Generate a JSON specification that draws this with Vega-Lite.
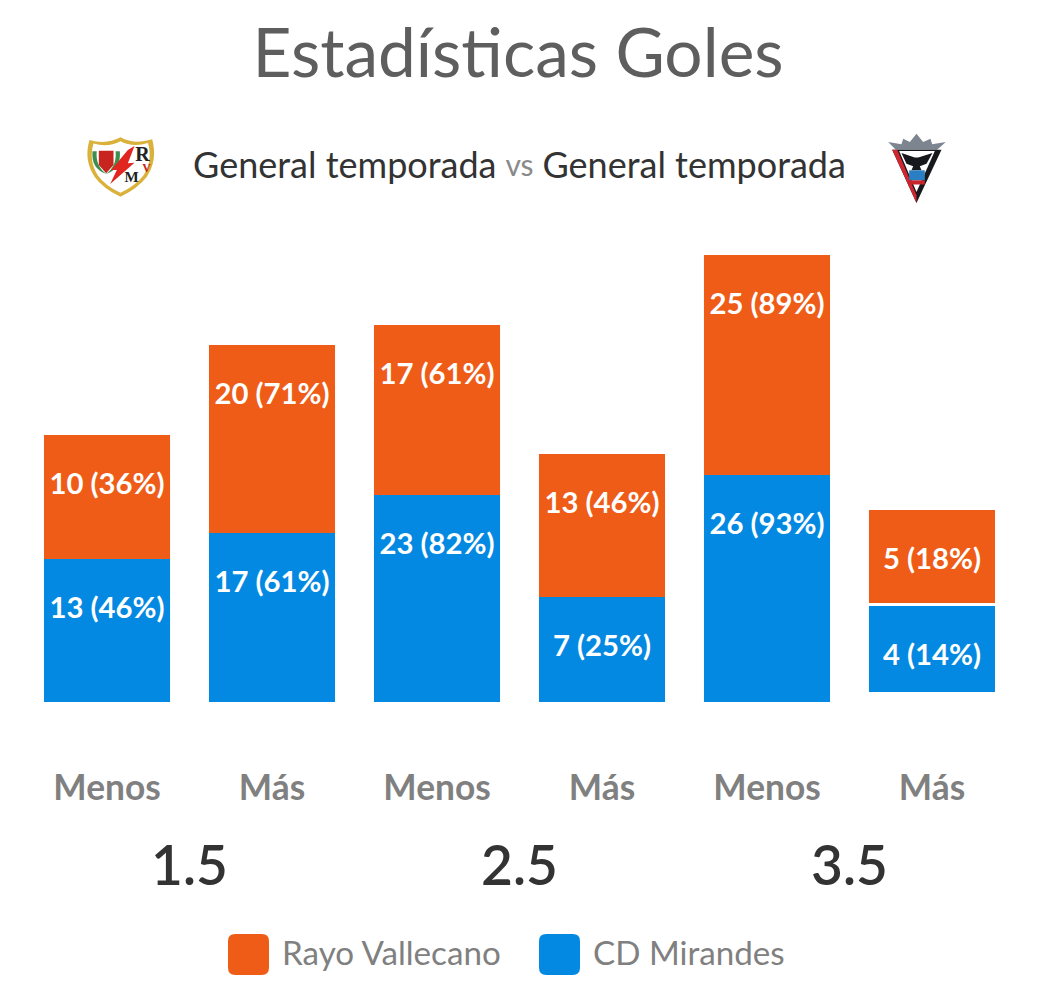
{
"$schema":"https://vega.github.io/schema/vega-lite/v6.json",
"width":1040,"height":1000,"padding":0,"autosize":"none","background":"white",
"config":{"view":{"stroke":null},"font":"Lato"},
"title":{"text":"Estadísticas Goles","font":"Lato","fontSize":67.6,"fontWeight":"normal","color":"#5e5e5e","anchor":"middle","offset":-92,"dx":-2},
"data":{"values":[
{"grupo":"1.5","linea":"Menos","equipo":"CD Mirandes","inicio":0,"fin":143,"etiqueta":"13 (46%)"},
{"grupo":"1.5","linea":"Menos","equipo":"Rayo Vallecano","inicio":143,"fin":267,"etiqueta":"10 (36%)"},
{"grupo":"1.5","linea":"Más","equipo":"CD Mirandes","inicio":0,"fin":169,"etiqueta":"17 (61%)"},
{"grupo":"1.5","linea":"Más","equipo":"Rayo Vallecano","inicio":169,"fin":357,"etiqueta":"20 (71%)"},
{"grupo":"2.5","linea":"Menos","equipo":"CD Mirandes","inicio":0,"fin":207,"etiqueta":"23 (82%)"},
{"grupo":"2.5","linea":"Menos","equipo":"Rayo Vallecano","inicio":207,"fin":377,"etiqueta":"17 (61%)"},
{"grupo":"2.5","linea":"Más","equipo":"CD Mirandes","inicio":0,"fin":105,"etiqueta":"7 (25%)"},
{"grupo":"2.5","linea":"Más","equipo":"Rayo Vallecano","inicio":105,"fin":248,"etiqueta":"13 (46%)"},
{"grupo":"3.5","linea":"Menos","equipo":"CD Mirandes","inicio":0,"fin":227,"etiqueta":"26 (93%)"},
{"grupo":"3.5","linea":"Menos","equipo":"Rayo Vallecano","inicio":227,"fin":447,"etiqueta":"25 (89%)"},
{"grupo":"3.5","linea":"Más","equipo":"CD Mirandes","inicio":10,"fin":96,"etiqueta":"4 (14%)"},
{"grupo":"3.5","linea":"Más","equipo":"Rayo Vallecano","inicio":99,"fin":192,"etiqueta":"5 (18%)"}
]},
"encoding":{
"x":{"field":"grupo","type":"nominal","sort":["1.5","2.5","3.5"],
 "scale":{"type":"band","domain":["1.5","2.5","3.5"],"paddingInner":0,"paddingOuter":0.0758,"align":0.49},
 "axis":{"title":null,"orient":"bottom","offset":-170,"labelAngle":0,"domain":false,"ticks":false,"grid":false,"labelFont":"Lato","labelFontSize":55,"labelFontWeight":600,"labelColor":"#333333","labelPadding":11}}
},
"layer":[
{"mark":{"type":"bar"},
 "encoding":{
 "xOffset":{"field":"linea","type":"nominal","sort":["Menos","Más"],"scale":{"domain":["Menos","Más"],"paddingInner":0.236,"paddingOuter":0.118}},
 "y":{"field":"inicio","type":"quantitative","scale":{"domain":[-298,702],"nice":false,"zero":false},"axis":null},
 "y2":{"field":"fin"},
 "color":{"field":"equipo","type":"nominal","scale":{"domain":["Rayo Vallecano","CD Mirandes"],"range":["#EE5C18","#0489E2"]},
  "legend":{"title":null,"orient":"none","legendX":228,"legendY":934,"direction":"horizontal","symbolType":"M-0.65,-1H0.65Q1,-1 1,-0.65V0.65Q1,1 0.65,1H-0.65Q-1,1 -1,0.65V-0.65Q-1,-1 -0.65,-1Z","symbolSize":1681,"symbolStrokeWidth":0,"symbolOpacity":1,"labelFont":"Lato","labelFontSize":33.2,"labelColor":"#808080","labelOffset":13,"columnPadding":37,"labelLimit":400,"padding":0}}
 }},
{"mark":{"type":"text","font":"Lato","fontSize":29.3,"fontWeight":"bold","color":"white","baseline":"middle","dy":50},
 "encoding":{
 "xOffset":{"field":"linea","type":"nominal","sort":["Menos","Más"]},
 "y":{"field":"fin","type":"quantitative"},
 "text":{"field":"etiqueta"}
 }},
{"transform":[{"filter":"datum.equipo === 'CD Mirandes'"}],
 "mark":{"type":"text","font":"Lato","fontSize":35.3,"fontWeight":"bold","color":"#808080","baseline":"middle"},
 "encoding":{
 "xOffset":{"field":"linea","type":"nominal","sort":["Menos","Más"]},
 "y":{"datum":-87},
 "text":{"field":"linea"}
 }},
{"data":{"values":[{"texto":"General temporada"}]},
 "mark":{"type":"text","font":"Lato","fontSize":36,"color":"#333333","align":"right","baseline":"middle","dx":-23},
 "encoding":{"x":{"datum":"2.5"},"y":{"datum":535},"text":{"field":"texto"}}},
{"data":{"values":[{"texto":"vs"}]},
 "mark":{"type":"text","font":"Lato","fontSize":30,"color":"#8a8a8a","align":"center","baseline":"middle"},
 "encoding":{"x":{"datum":"2.5"},"y":{"datum":535},"text":{"field":"texto"}}},
{"data":{"values":[{"texto":"General temporada"}]},
 "mark":{"type":"text","font":"Lato","fontSize":36,"color":"#333333","align":"left","baseline":"middle","dx":23},
 "encoding":{"x":{"datum":"2.5"},"y":{"datum":535},"text":{"field":"texto"}}},
{"data":{"values":[{"escudo":"Rayo Vallecano"}]},
 "layer":[
 {"mark":{"type":"point","filled":true,"opacity":1,"color":"#d9b13b","size":4900,"shape":"M-0.886,-0.771Q-0.41,-0.63 0,-0.848Q0.4,-0.63 0.905,-0.79Q1.067,-0.2 0.752,0.276Q0.495,0.61 0,0.848Q-0.505,0.61 -0.743,0.276Q-1.057,-0.2 -0.886,-0.771Z"},
  "encoding":{"x":{"datum":"1.5"},"xOffset":{"value":96},"y":{"datum":535}}},
 {"mark":{"type":"point","filled":true,"opacity":1,"color":"#ffffff","size":3700,"shape":"M-0.886,-0.771Q-0.41,-0.63 0,-0.848Q0.4,-0.63 0.905,-0.79Q1.067,-0.2 0.752,0.276Q0.495,0.61 0,0.848Q-0.505,0.61 -0.743,0.276Q-1.057,-0.2 -0.886,-0.771Z"},
  "encoding":{"x":{"datum":"1.5"},"xOffset":{"value":96},"y":{"datum":535}}},
 {"mark":{"type":"point","filled":true,"opacity":1,"color":"#3e8f4e","size":4900,"shape":"M-0.8,-0.45Q-0.85,0.05 -0.4,0.2Q-0.72,-0.02 -0.68,-0.45ZM-0.02,-0.45Q0.03,0.05 -0.42,0.2Q-0.1,-0.02 -0.14,-0.45Z"},
  "encoding":{"x":{"datum":"1.5"},"xOffset":{"value":96},"y":{"datum":535}}},
 {"mark":{"type":"point","filled":true,"opacity":1,"color":"#c8251f","size":4900,"shape":"M-0.62,-0.467L-0.2,-0.467L-0.2,-0.057L-0.41,0.18L-0.62,-0.057Z"},
  "encoding":{"x":{"datum":"1.5"},"xOffset":{"value":96},"y":{"datum":535}}},
 {"mark":{"type":"point","filled":true,"opacity":1,"color":"#e0261f","size":4900,"shape":"M0.4,-0.6L0.21,-0.105L0.4,-0.124L-0.295,0.486L-0.105,0.086L-0.267,0.086L0.21,-0.486Z"},
  "encoding":{"x":{"datum":"1.5"},"xOffset":{"value":96},"y":{"datum":535}}}
 ]},
{"data":{"values":[{"letra":"R"}]},
 "mark":{"type":"text","font":"Liberation Serif","fontWeight":"bold","fontSize":20,"color":"#222222","baseline":"middle","dx":-47},
 "encoding":{"x":{"datum":"1.5"},"y":{"datum":547},"text":{"field":"letra"}}},
{"data":{"values":[{"letra":"M"}]},
 "mark":{"type":"text","font":"Liberation Serif","fontWeight":"bold","fontSize":15,"color":"#222222","baseline":"middle","dx":-58},
 "encoding":{"x":{"datum":"1.5"},"y":{"datum":525},"text":{"field":"letra"}}},
{"data":{"values":[{"letra":"V"}]},
 "mark":{"type":"text","font":"Liberation Serif","fontWeight":"bold","fontSize":12,"color":"#c8251f","baseline":"middle","dx":-43},
 "encoding":{"x":{"datum":"1.5"},"y":{"datum":534},"text":{"field":"letra"}}},
{"data":{"values":[{"escudo":"CD Mirandes"}]},
 "layer":[
 {"mark":{"type":"point","filled":true,"opacity":1,"color":"#7d8590","size":4900,"shape":"M-0.81,-0.714L-0.43,-0.648L-0.38,-0.81L-0.19,-0.714L0,-0.952L0.19,-0.714L0.4,-0.81L0.448,-0.648L0.838,-0.714L0.59,-0.495L-0.59,-0.495Z"},
  "encoding":{"x":{"datum":"3.5"},"xOffset":{"value":232},"y":{"datum":535}}},
 {"mark":{"type":"point","filled":true,"opacity":1,"color":"#16181c","size":4900,"shape":"M-0.695,-0.495L0.714,-0.495L0,1.03Z"},
  "encoding":{"x":{"datum":"3.5"},"xOffset":{"value":232},"y":{"datum":535}}},
 {"mark":{"type":"point","filled":true,"opacity":1,"color":"#cf2630","size":4900,"shape":"M-0.695,-0.495L-0.55,-0.495L0,0.81L0,1.03Z"},
  "encoding":{"x":{"datum":"3.5"},"xOffset":{"value":232},"y":{"datum":535}}},
 {"mark":{"type":"point","filled":true,"opacity":1,"color":"#ffffff","size":4900,"shape":"M-0.495,-0.457L0.524,-0.457L0,0.714Z"},
  "encoding":{"x":{"datum":"3.5"},"xOffset":{"value":232},"y":{"datum":535}}},
 {"mark":{"type":"point","filled":true,"opacity":1,"color":"#16181c","size":4900,"shape":"M-0.43,-0.4L-0.05,-0.27L0.05,-0.27L0.457,-0.4L0.286,-0.095L0.095,-0.02L0.143,0.095L-0.143,0.095L-0.095,-0.02L-0.286,-0.095Z"},
  "encoding":{"x":{"datum":"3.5"},"xOffset":{"value":232},"y":{"datum":535}}},
 {"mark":{"type":"point","filled":true,"opacity":1,"color":"#2a7fc4","size":4900,"shape":"M-0.21,0.095L0.238,0.095L0.238,0.38L-0.21,0.38Z"},
  "encoding":{"x":{"datum":"3.5"},"xOffset":{"value":232},"y":{"datum":535}}},
 {"mark":{"type":"point","filled":true,"opacity":1,"color":"#c8242b","size":4900,"shape":"M-0.238,0.38L0.238,0.38L0.238,0.5L-0.238,0.5Z"},
  "encoding":{"x":{"datum":"3.5"},"xOffset":{"value":232},"y":{"datum":535}}}
 ]}
]
}
